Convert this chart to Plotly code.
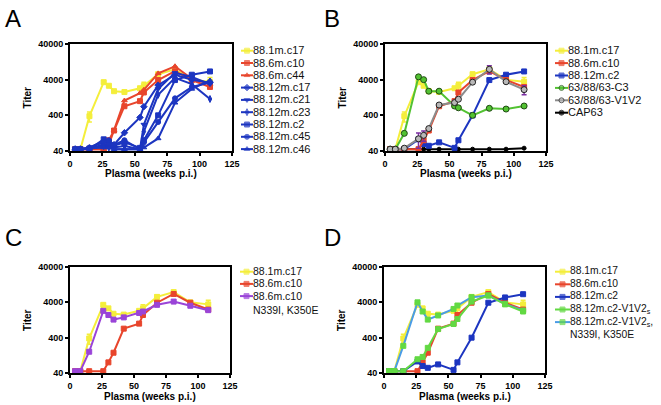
import plotly.graph_objects as go
import math

W, H = 661, 405

weeks = [4, 8, 15, 26, 30, 34, 42, 54, 57, 68, 81, 94, 108]

# series values (titer)
y_88_1m_c17 = [45, 45, 380, 3400, 2700, 1900, 1800, 2300, 2700, 5700, 7800, 4000, 3500]
y_88_1m_c17_err = [0, 0, 120, 300, 0, 0, 0, 0, 700, 700, 0, 0, 1100]
y_88_6m_c10 = [45, 45, 45, 45, 80, 150, 720, 1000, 1750, 3900, 6900, 3900, 2500]
y_88_6m_c44 = [45, 45, 45, 45, 60, 150, 1040, 1680, 2080, 6000, 9500, 4200, 3000]
y_88_12m_c17 = [45, 45, 48, 60, 55, 60, 130, 350, 700, 2800, 5500, 4000, 3300]
y_88_12m_c21 = [45, 45, 50, 70, 75, 50, 55, 45, 220, 2200, 6200, 4800, 3000]
y_88_12m_c23 = [45, 45, 48, 55, 50, 45, 45, 45, 140, 1500, 4500, 3000, 1150]
y_88_12m_c2 = [45, 45, 45, 85, 63, 56, 70, 49, 80, 400, 3900, 5500, 6800]
y_88_12m_c45 = [45, 45, 50, 75, 80, 60, 80, 45, 70, 260, 1200, 2500, 3300]
y_88_12m_c46 = [45, 45, 48, 50, 50, 45, 45, 45, 50, 90, 900, 2200, 3800]
y_63_88_63_C3 = [45, 45, 125, 4800, 4000, 1900, 1900, 730, 650, 400, 630, 600, 730]
y_63_88_63_V1V2 = [45, 45, 48, 88, 110, 170, 780, 910, 1130, 3400, 7800, 3500, 2100]
y_63_88_63_V1V2_err = [0, 0, 0, 40, 35, 0, 0, 0, 0, 0, 2000, 0, 600]
y_CAP63 = [45, 45, 45, 45, 45, 45, 45, 45, 45, 45, 45, 45, 48]
y_88_6m_c10_mut = [45, 45, 160, 2300, 1750, 1300, 1500, 2000, 2200, 3400, 4200, 3200, 2400]
y_88_12m_c2_V1V2s = [45, 45, 45, 98, 114, 206, 700, 975, 1350, 4200, 6250, 3500, 2200]
y_88_12m_c2_V1V2s_mut = [45, 45, 235, 4000, 2200, 1300, 1700, 2600, 3250, 5600, 6250, 3600, 2350]

x_ticks = [0, 25, 50, 75, 100, 125]
y_ticks = [40, 400, 4000, 40000]
y_tick_labels = ["40", "400", "4000", "40000"]

YEL = "#f4ee3b"
RED = "#e8452c"
BLUE = "#1c35c0"
GREEN = "#52c232"
GRAY = "#8c8c8c"
BLACK = "#000000"
PURPLE = "#9a44d8"
DGREEN = "#62d943"
LBLUE = "#4a9ce6"

FONT = "Liberation Sans"

# panel plot areas in pixels (x0, x1, y0, y1) with y measured from top
panels = {
    1: (70, 232, 44, 151),
    2: (385, 546, 44, 151),
    3: (70, 230, 267, 373),
    4: (384, 545, 267, 373),
}

fig = go.Figure()

def series(panel, name, ys, color, symbol, lcolor=None, mcolor=None, mline=None, err=None, errcolor=None, msize=5):
    ax = "" if panel == 1 else str(panel)
    tr = go.Scatter(
        x=weeks, y=ys, mode="lines+markers", name=name,
        xaxis="x" + ax, yaxis="y" + ax, showlegend=False,
        line=dict(color=lcolor or color, width=2),
        marker=dict(symbol=symbol, size=msize, color=mcolor or color,
                    line=dict(color=mline or (mcolor or color), width=1)),
        cliponaxis=False,
    )
    if err is not None:
        tr.error_y = dict(type="data", array=err, visible=True, color=errcolor or color,
                          thickness=1.5, width=2.5)
    fig.add_trace(tr)

# Panel A
series(1, "88.1m.c17", y_88_1m_c17, YEL, "square", err=y_88_1m_c17_err)
series(1, "88.6m.c10", y_88_6m_c10, RED, "square")
series(1, "88.6m.c44", y_88_6m_c44, RED, "triangle-up")
series(1, "88.12m.c17", y_88_12m_c17, BLUE, "diamond")
series(1, "88.12m.c21", y_88_12m_c21, BLUE, "triangle-down")
series(1, "88.12m.c23", y_88_12m_c23, BLUE, "diamond-tall")
series(1, "88.12m.c2", y_88_12m_c2, BLUE, "square")
series(1, "88.12m.c45", y_88_12m_c45, BLUE, "circle")
series(1, "88.12m.c46", y_88_12m_c46, BLUE, "triangle-up")

# Panel B
series(2, "CAP63", y_CAP63, BLACK, "circle", msize=4)
series(2, "88.1m.c17", y_88_1m_c17, YEL, "square", err=y_88_1m_c17_err)
series(2, "88.12m.c2", y_88_12m_c2, BLUE, "square")
series(2, "88.6m.c10", y_88_6m_c10, RED, "square")
series(2, "63/88/63-C3", y_63_88_63_C3, GREEN, "circle", mcolor=GREEN, mline="#1f4a12", msize=6)
series(2, "63/88/63-V1V2", y_63_88_63_V1V2, GRAY, "circle", mcolor="#b8b8b8", mline="#222222",
       err=y_63_88_63_V1V2_err, errcolor="#7a2fa0", msize=6)

# Panel C
series(3, "88.1m.c17", y_88_1m_c17, YEL, "square", err=y_88_1m_c17_err)
series(3, "88.6m.c10", y_88_6m_c10, RED, "square")
series(3, "88.6m.c10 N339I, K350E", y_88_6m_c10_mut, PURPLE, "square")

# Panel D
series(4, "88.1m.c17", y_88_1m_c17, YEL, "square", err=y_88_1m_c17_err)
series(4, "88.6m.c10", y_88_6m_c10, RED, "square")
series(4, "88.12m.c2", y_88_12m_c2, BLUE, "square")
series(4, "88.12m.c2-V1V2s N339I, K350E", y_88_12m_c2_V1V2s_mut, LBLUE, "square", mcolor=DGREEN)
series(4, "88.12m.c2-V1V2s", y_88_12m_c2_V1V2s, DGREEN, "square")

layout = dict(
    width=W, height=H, margin=dict(l=0, r=0, t=0, b=0),
    paper_bgcolor="white", plot_bgcolor="rgba(0,0,0,0)",
    font=dict(family=FONT, color="black"),
    showlegend=False,
)

annotations = []
for p, (x0, x1, y0, y1) in panels.items():
    ax = "" if p == 1 else str(p)
    xd = [x0 / W, x1 / W]
    yd = [1 - y1 / H, 1 - y0 / H]
    common = dict(showline=True, linecolor="black", linewidth=2, mirror=True,
                  ticks="outside", ticklen=3, tickwidth=1.5, tickcolor="black",
                  showgrid=False, zeroline=False, automargin=False, fixedrange=True,
                  tickfont=dict(family=FONT, size=9, color="black", weight="bold"))
    layout["xaxis" + ax] = dict(domain=xd, range=[0, 125], tickvals=x_ticks,
                                anchor="y" + ax, **common)
    layout["yaxis" + ax] = dict(domain=yd, type="log",
                                range=[math.log10(40), math.log10(40000)],
                                tickvals=y_ticks, ticktext=y_tick_labels,
                                anchor="x" + ax, **common)
    annotations.append(dict(text="<b>Plasma (weeks p.i.)</b>", xref="paper", yref="paper",
                            x=(x0 + x1) / 2 / W, y=1 - (y1 + 23) / H, showarrow=False,
                            xanchor="center", yanchor="middle",
                            font=dict(family=FONT, size=10, color="black")))
    annotations.append(dict(text="<b>Titer</b>", xref="paper", yref="paper",
                            x=(x0 - 43) / W, y=1 - (y0 + y1) / 2 / H, showarrow=False,
                            textangle=-90, xanchor="center", yanchor="middle",
                            font=dict(family=FONT, size=10, color="black")))

# panel letters
for letter, lx, ly in [("A", 3, 3), ("B", 322, 3), ("C", 3, 222), ("D", 322, 222)]:
    annotations.append(dict(text=letter, xref="paper", yref="paper", x=lx / W, y=1 - ly / H,
                            xanchor="left", yanchor="top", showarrow=False,
                            font=dict(family=FONT, size=24, color="black")))

# manual legends on an overlay axis in pixel units
layout["xaxis5"] = dict(domain=[0, 1], range=[0, W], visible=False, fixedrange=True, anchor="y5")
layout["yaxis5"] = dict(domain=[0, 1], range=[H, 0], visible=False, fixedrange=True, anchor="x5")

legends = [
    (241, 12, 50.7, 12.3, 11, [
        ("88.1m.c17", YEL, YEL, None, "square"),
        ("88.6m.c10", RED, RED, None, "square"),
        ("88.6m.c44", RED, RED, None, "triangle-up"),
        ("88.12m.c17", BLUE, BLUE, None, "diamond"),
        ("88.12m.c21", BLUE, BLUE, None, "triangle-down"),
        ("88.12m.c23", BLUE, BLUE, None, "diamond-tall"),
        ("88.12m.c2", BLUE, BLUE, None, "square"),
        ("88.12m.c45", BLUE, BLUE, None, "circle"),
        ("88.12m.c46", BLUE, BLUE, None, "triangle-up"),
    ]),
    (555, 13, 50.7, 12.4, 11, [
        ("88.1m.c17", YEL, YEL, None, "square"),
        ("88.6m.c10", RED, RED, None, "square"),
        ("88.12m.c2", BLUE, BLUE, None, "square"),
        ("63/88/63-C3", GREEN, GREEN, "#1f4a12", "circle"),
        ("63/88/63-V1V2", GRAY, "#b8b8b8", "#222222", "circle"),
        ("CAP63", BLACK, BLACK, None, "circle"),
    ]),
    (240, 13, 271.7, 12.2, 10.5, [
        ("88.1m.c17", YEL, YEL, None, "square"),
        ("88.6m.c10", RED, RED, None, "square"),
        ("88.6m.c10<br>N339I, K350E", PURPLE, PURPLE, None, "square"),
    ]),
    (555, 15, 271.7, 12.6, 10.3, [
        ("88.1m.c17", YEL, YEL, None, "square"),
        ("88.6m.c10", RED, RED, None, "square"),
        ("88.12m.c2", BLUE, BLUE, None, "square"),
        ("88.12m.c2-V1V2<sub>s</sub>", DGREEN, DGREEN, None, "square"),
        ("88.12m.c2-V1V2<sub>s</sub>,<br>N339I, K350E", LBLUE, DGREEN, None, "square"),
    ]),
]

for lx, ll, ly0, dy, fs, items in legends:
    for i, (label, lc, mc, ml, sym) in enumerate(items):
        yc = ly0 + i * dy
        fig.add_trace(go.Scatter(
            x=[lx, lx + ll / 2, lx + ll], y=[yc, yc, yc], mode="lines+markers",
            xaxis="x5", yaxis="y5", showlegend=False, hoverinfo="skip",
            line=dict(color=lc, width=2),
            marker=dict(symbol=sym, size=[0, 5, 0], color=mc,
                        line=dict(color=ml or mc, width=1)),
            cliponaxis=False,
        ))
        annotations.append(dict(text=label, xref="paper", yref="paper",
                                x=(lx + ll) / W, y=1 - (yc - 6.5) / H,
                                xanchor="left", yanchor="top", align="left", showarrow=False,
                                borderpad=0, borderwidth=0,
                                font=dict(family=FONT, size=fs, color="#111111")))

layout["annotations"] = annotations
fig.update_layout(**layout)
fig.write_html("out.html", config={"displayModeBar": False},
               post_script="document.body.style.margin='0';document.body.style.overflow='hidden';")
